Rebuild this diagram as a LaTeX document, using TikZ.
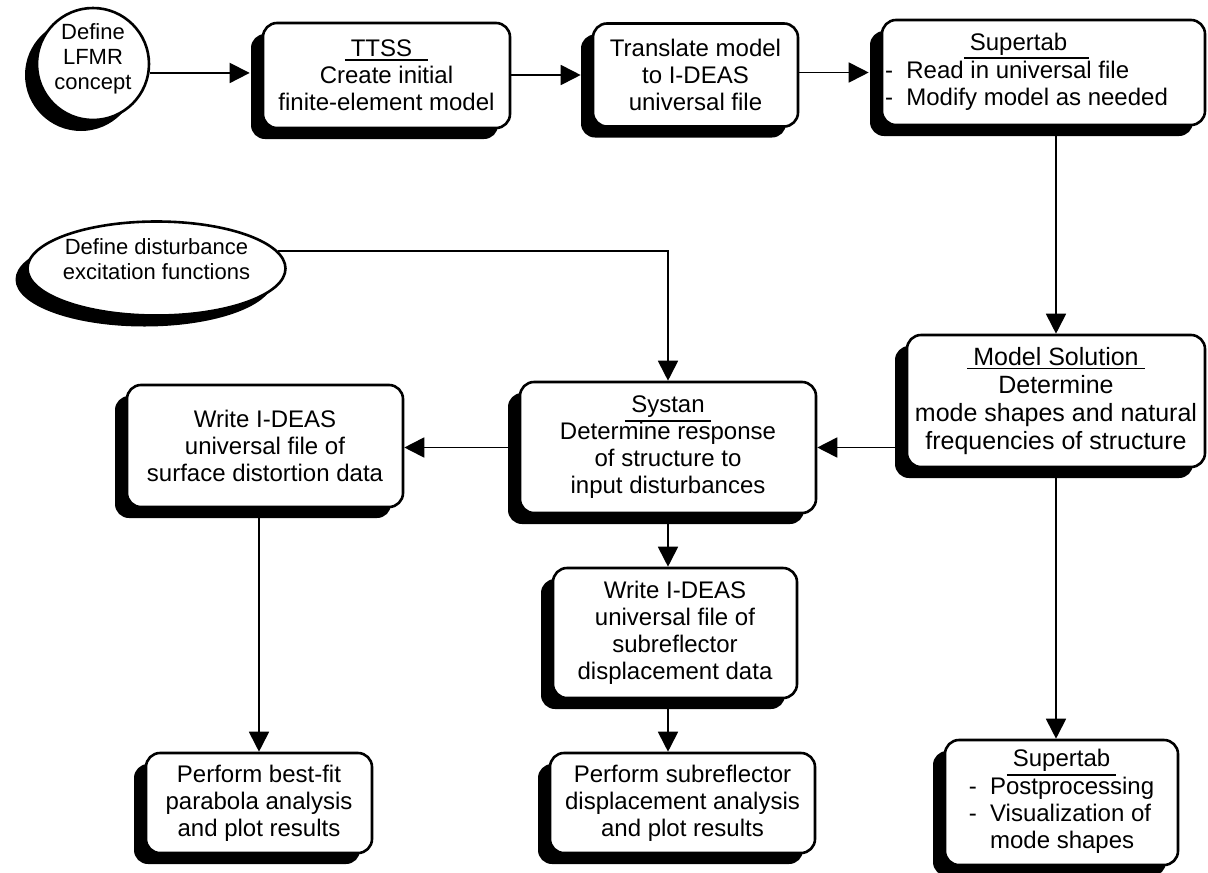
\documentclass[tikz,border=0pt]{standalone}
\usepackage{fontspec}
\setmainfont{Liberation Sans}
\usetikzlibrary{shapes.geometric,shadows,arrows.meta,calc}
\newcommand{\myul}[2][0pt]{\setbox0=\hbox{#2}\vtop{\hbox to \dimexpr\wd0+12pt+#1\relax{\hskip6pt\box0\hss}\kern2pt\hrule height 1.7pt}}
\begin{document}
\begin{tikzpicture}[x=1pt,y=-1pt,
  every node/.style={font=\fontsize{24}{27}\selectfont},
  shad/.style={drop shadow={shadow xshift=-12pt,shadow yshift=-11pt,fill=black,opacity=1,draw=none}},
  procbox/.style={draw,line width=2.6pt,rounded corners=14pt,fill=white,shad,inner sep=2pt,align=center},
  roundbox/.style={draw,line width=2.6pt,fill=white,shad,inner sep=0pt},
  conn/.style={line width=1.8pt,-{Triangle[length=20pt,width=20pt]}}]
\useasboundingbox[fill=white] (0,0) rectangle (1208,873);

% top row
\node[roundbox,circle,minimum size=112pt,font=\fontsize{22}{25}\selectfont] (c1) at (93,64)
  {\raisebox{-1pt}[0pt][0pt]{\makebox[0pt]{\begin{tabular}{@{}c@{}}Define\\LFMR\\concept\end{tabular}}}};
\node[procbox,minimum width=247pt,minimum height=105pt] (ttss) at (386.5,75.5)
  {\myul[10pt]{TTSS}\\Create initial\\finite-element model};
\node[procbox,minimum width=205pt,minimum height=103pt] (trans) at (695.5,75)
  {Translate model\\to I-DEAS\\universal file};
\node[procbox,minimum width=323pt,minimum height=105pt] (sup1) at (1043.5,72.5)
  {\begin{tabular}{@{}l@{}}\multicolumn{1}{@{}c@{}}{\myul[16pt]{Supertab}}\\[1pt]-\ \ Read in universal file\\-\ \ Modify model as needed\end{tabular}\hspace*{34pt}};

% middle
\node[roundbox,ellipse,minimum width=258pt,minimum height=94pt,font=\fontsize{22}{25}\selectfont] (ell) at (156.5,268.5)
  {\raisebox{1pt}[0pt][0pt]{\makebox[0pt]{\begin{tabular}{@{}c@{}}Define disturbance\\excitation functions\end{tabular}}}};
\node[procbox,minimum width=276pt,minimum height=122pt] (wleft) at (265,446)
  {Write I-DEAS\\universal file of\\surface distortion data};
\node[procbox,minimum width=296pt,minimum height=131pt] (systan) at (668,447.5)
  {\myul{Systan}\\Determine response\\of structure to\\input disturbances};
\node[procbox,minimum width=298pt,minimum height=132pt,font=\fontsize{25}{28}\selectfont] (model) at (1056,401)
  {\myul{Model Solution}\\Determine\\mode shapes and natural\\frequencies of structure};
\node[procbox,minimum width=244pt,minimum height=130pt] (wmid) at (675,633)
  {Write I-DEAS\\universal file of\\subreflector\\displacement data};

% bottom row
\node[procbox,minimum width=226pt,minimum height=100pt] (perf1) at (259,803)
  {Perform best-fit\\parabola analysis\\and plot results};
\node[procbox,minimum width=265pt,minimum height=100pt] (perf2) at (682.5,803)
  {Perform subreflector\\displacement analysis\\and plot results};
\node[procbox,minimum width=233pt,minimum height=125pt] (sup2) at (1061.5,802.5)
  {\begin{tabular}{@{}l@{}}\multicolumn{1}{@{}c@{}}{\myul{Supertab}}\\[1pt]-\ \ Postprocessing\\-\ \ Visualization of\\\phantom{-\ \ }mode shapes\end{tabular}};

% connectors
\draw[conn,shorten >=12pt] (c1.-9) -- (c1.-9 -| ttss.west);
\draw[conn,shorten >=11pt] (ttss.east |- trans.west) -- (trans.west);
\draw[conn,shorten >=12pt] (trans.east |- sup1.west) -- (sup1.west);
\draw[conn] (model.north |- sup1.south) -- (model.north);
\draw[conn] (ell.8) -| (systan.north);
\draw[conn] (model.west |- systan.east) -- (systan.east);
\draw[conn] (systan.west) -- (systan.west -| wleft.east);
\draw[conn] (systan.south) -- (systan.south |- wmid.north);
\draw[conn] (systan.south |- wmid.south) -- (systan.south |- perf2.north);
\draw[conn] (perf1.north |- wleft.south) -- (perf1.north);
\draw[conn] (model.south) -- (model.south |- sup2.north);
\end{tikzpicture}
\end{document}
